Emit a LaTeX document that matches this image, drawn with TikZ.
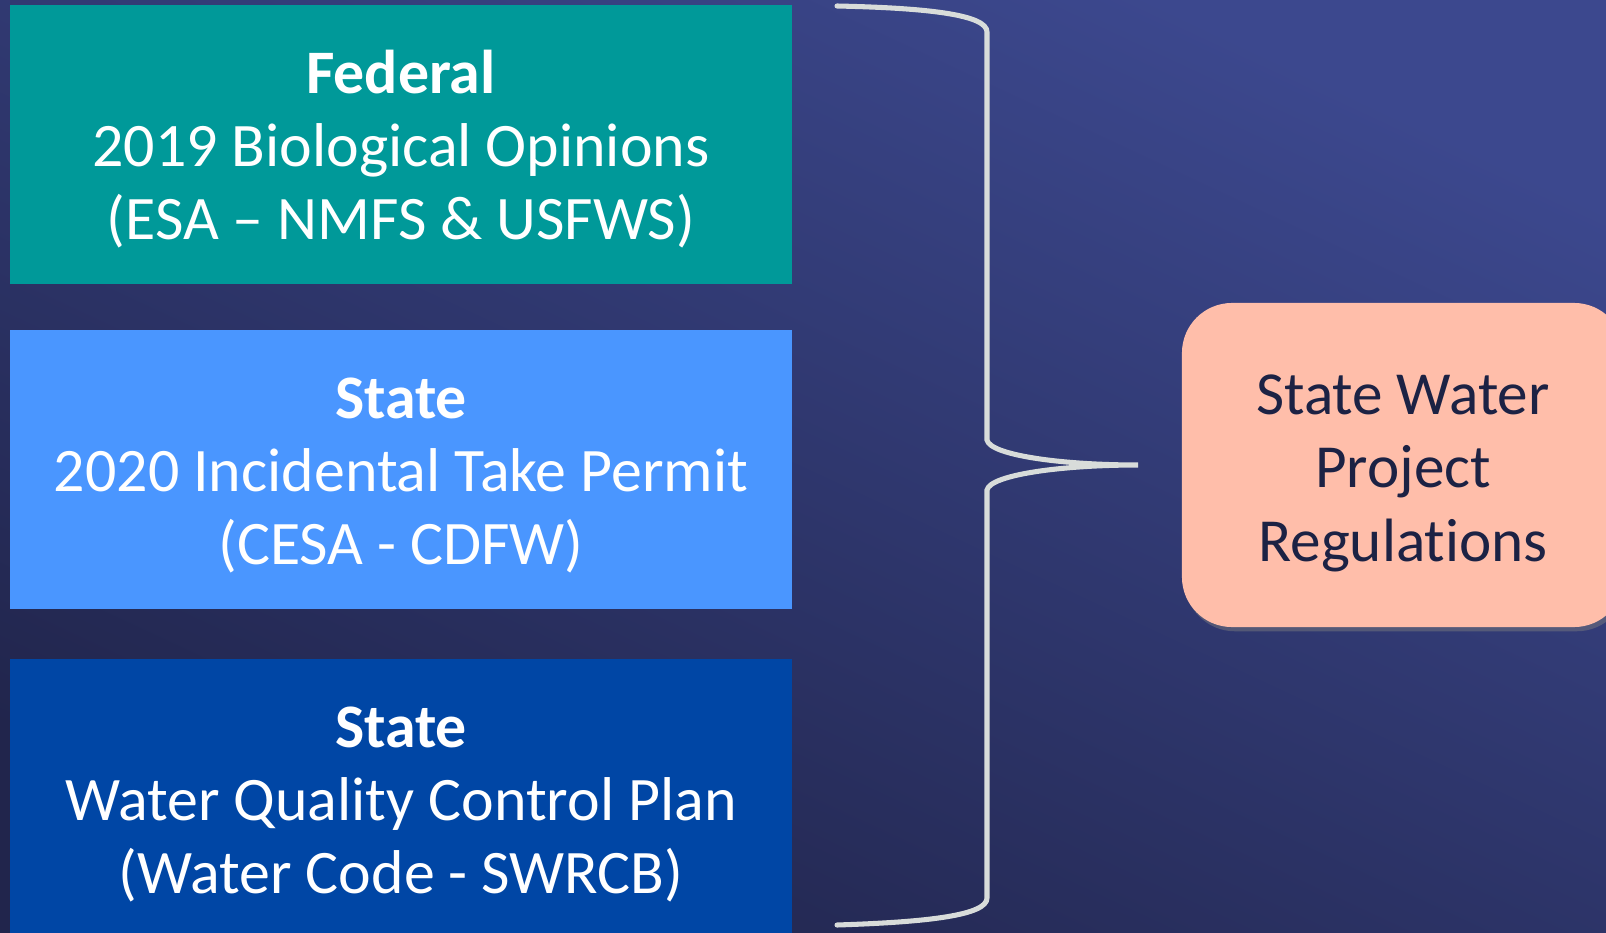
\documentclass[tikz,border=0pt]{standalone}
\usepackage{fontspec}
\setmainfont{Carlito}[Ligatures=NoCommon]
\usetikzlibrary{shadows}
\definecolor{bgtop}{RGB}{60,72,142}
\definecolor{bgbot}{RGB}{33,37,76}
\definecolor{tealbox}{RGB}{0,153,153}
\definecolor{lightbox}{RGB}{74,150,255}
\definecolor{darkbox}{RGB}{0,70,165}
\definecolor{pinkbox}{RGB}{255,190,170}
\definecolor{navytext}{RGB}{28,34,68}
\definecolor{bracegray}{RGB}{216,220,218}
\newcommand{\oben}[1]{\rule{0pt}{#1}}
\tikzset{
  lawbox/.style={minimum width=19.55cm, minimum height=6.975cm, inner sep=0pt, align=center,
    text=white, font=\fontsize{44}{52}\selectfont},
  resultbox/.style={minimum width=11.05cm, minimum height=8.1cm, rounded corners=1.25cm, align=center,
    fill=pinkbox, text=navytext, font=\fontsize{43.5}{52}\selectfont,
    drop shadow={shadow xshift=2pt, shadow yshift=-3pt, opacity=0.45}},
  bracelinie/.style={draw=bracegray, line width=3.6pt, line cap=round}
}
\begin{document}
\begin{tikzpicture}[x=0.025cm, y=-0.025cm]
	   	%Hintergrund
	   	\useasboundingbox (0,0) rectangle (1606,933);
	   	\shade[top color=bgtop, bottom color=bgbot, shading angle=-25] (0,0) rectangle (1606,933);
	   	%
	   	%Federal
	   	\node (federal) at (401,144.5) [lawbox, fill=tealbox] {\oben{1.33cm}\textbf{Federal}\\2019 Biological Opinions\\(ESA – NMFS \& USFWS)};
	   	%
	   	%State ITP
	   	\node (permit) at (401,469.5) [lawbox, fill=lightbox] {\oben{1.33cm}\textbf{State}\\2020 Incidental Take Permit\\(CESA - CDFW)};
	   	%
	   	%State WQCP
	   	\node (wqcp) at (401,798.5) [lawbox, fill=darkbox] {\oben{1.33cm}\textbf{State}\\Water Quality Control Plan\\(Water Code - SWRCB)};
	   	%
	   	%Ergebnis
	   	\node (swp) at (1403,465) [resultbox] {\oben{1.41cm}State Water\\Project\\Regulations};
	   	%
	   	%Klammer
	   	\coordinate (bracetop) at (837,6);
	   	\coordinate (bracetip) at (1138,465);
	   	\coordinate (bracebot) at (837,925);
	   	\draw[bracelinie] (bracetop) .. controls (930,8) and (987,15) .. (987,32)
	   	  -- (987,440) .. controls (990,455) and (1060,465) .. (bracetip)
	   	  .. controls (1060,465) and (990,475) .. (987,490)
	   	  -- (987,898) .. controls (987,915) and (930,922) .. (bracebot);
\end{tikzpicture}
\end{document}
